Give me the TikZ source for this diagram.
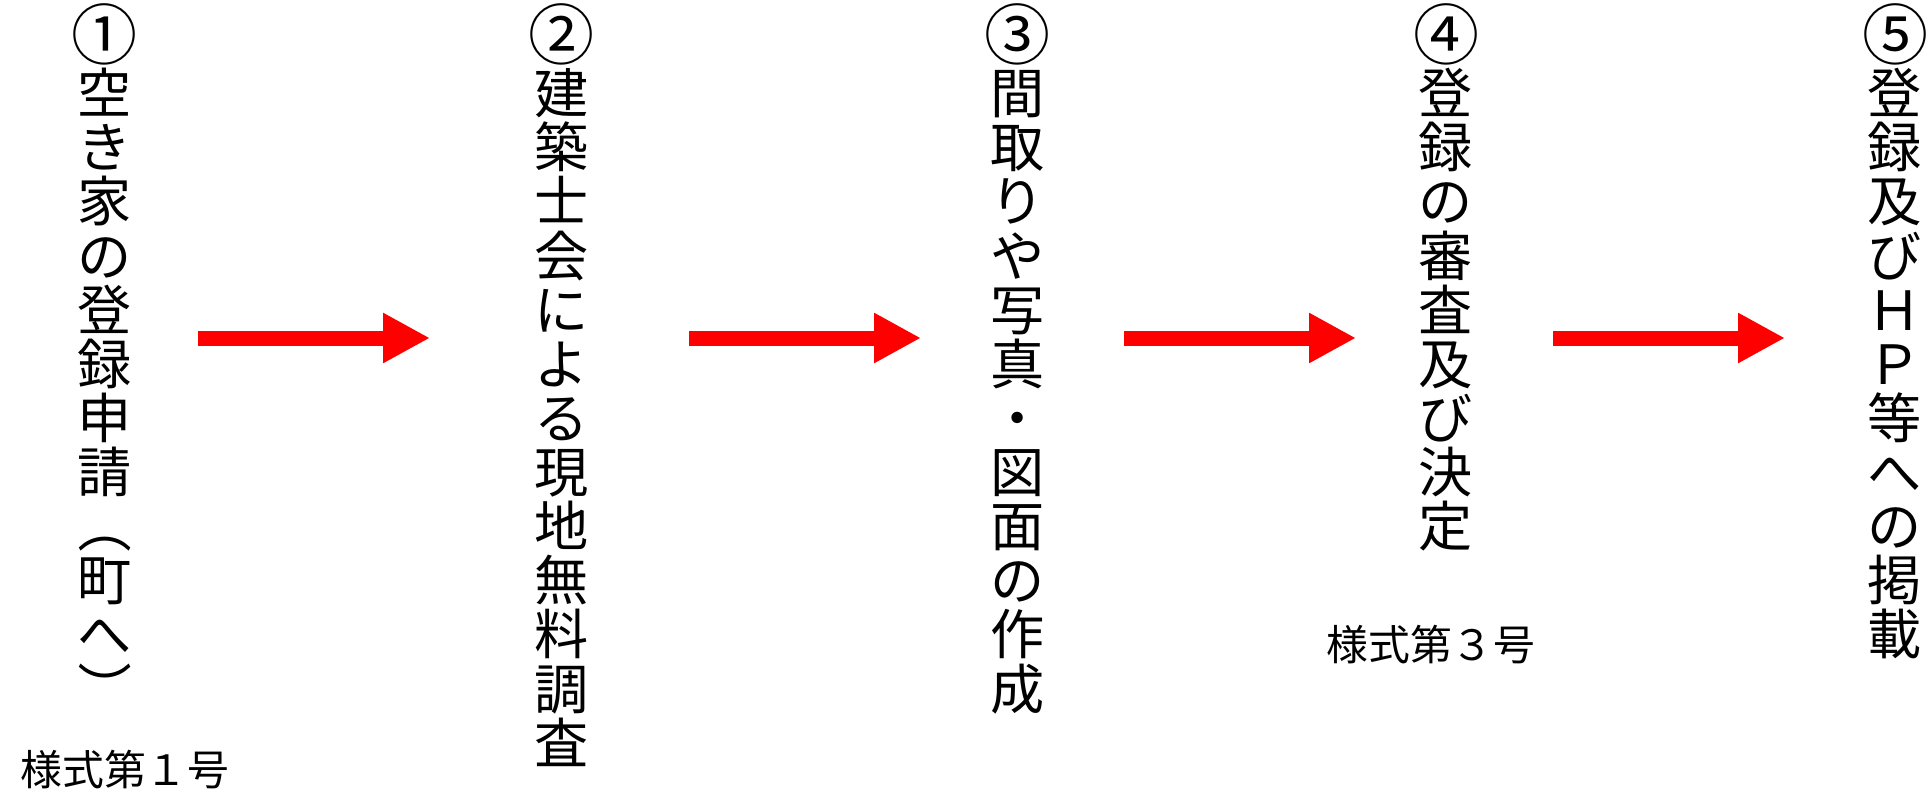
\documentclass[tikz,border=0pt]{standalone}
\usepackage{fontspec}
\usepackage[]{xcolor}
\usepackage{tikz}
\usetikzlibrary{arrows.meta}

\newfontfamily\jpfont{Noto Sans CJK JP}
% brackets in vertical writing
\newcommand{\tatekakko}[1]{\rotatebox[origin=c]{-90}{#1}}
\newcommand{\maru}[1]{\scalebox{1.22}{#1}}

\tikzset{
  tate/.style={font=\jpfont\fontsize{15.4pt}{15.4pt}\selectfont,
    align=center, inner sep=0pt, anchor=north},
  yoshiki/.style={font=\jpfont\fontsize{11.9pt}{11.9pt}\selectfont, inner sep=0pt},
  flowarrow/.style={red, line width=0.15cm, -{Triangle[length=0.47cm,width=0.47cm]}}
}

\begin{document}
\begin{tikzpicture}
      \useasboundingbox (0,0) rectangle (19.26,7.96);
      \node[tate] (step1) at ( 1.05,7.93) {\maru{①}\\空\\き\\家\\の\\登\\録\\申\\請\\\tatekakko{（}\\町\\へ\\\tatekakko{）}};
      \node[tate] (step2) at ( 5.62,7.93) {\maru{②}\\建\\築\\士\\会\\に\\よ\\る\\現\\地\\無\\料\\調\\査};
      \node[tate] (step3) at (10.18,7.93) {\maru{③}\\間\\取\\り\\や\\写\\真\\・\\図\\面\\の\\作\\成};
      \node[tate] (step4) at (14.46,7.93) {\maru{④}\\登\\録\\の\\審\\査\\及\\び\\決\\定};
      \node[tate] (step5) at (18.95,7.93) {\maru{⑤}\\登\\録\\及\\び\\Ｈ\\Ｐ\\等\\へ\\の\\掲\\載};
      \node[yoshiki] (form1) at ( 1.25,0.26) {様式第１号};
      \node[yoshiki] (form3) at (14.31,1.51) {様式第３号};
      % arrows between the steps
      \foreach \x/\n in {1.98/1, 6.89/2, 11.24/3, 15.53/4} {
        \coordinate (from\n) at (\x,4.58);
        \coordinate (to\n) at (\x+2.32,4.58);
        \draw[flowarrow] (from\n) -- (to\n);
      }
\end{tikzpicture}
\end{document}
